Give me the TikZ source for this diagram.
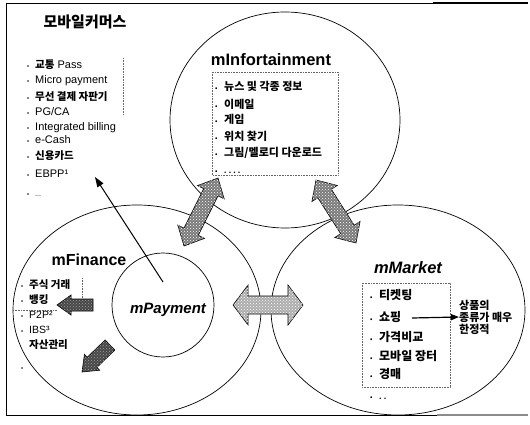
\documentclass[tikz,border=0pt]{standalone}
\usepackage{fontspec}
\setmainfont{Liberation Sans}
\newfontfamily\kr{Noto Sans CJK KR}
\usetikzlibrary{shapes.geometric,calc,arrows.meta,patterns}

\newcommand\fs[1]{\fontsize{#1}{#1}\selectfont}
\newcommand\krb{\kr\bfseries}
\newcommand\bul[1]{\makebox[#1][l]{\fontsize{6}{6}\selectfont •}}

% double block arrow: style, end a, end b, half body, half head, head length
\newcommand\blkdouble[6]{%
  \coordinate (pa) at ($(#2)!#6!(#3)$);
  \coordinate (pb) at ($(#3)!#6!(#2)$);
  \path[#1] (#2) -- ($(pa)!#5!90:(#3)$) -- ($(pa)!#4!90:(#3)$) -- ($(pb)!#4!90:(#3)$)
    -- ($(pb)!#5!90:(#3)$) -- (#3) -- ($(pb)!#5!-90:(#3)$) -- ($(pb)!#4!-90:(#3)$)
    -- ($(pa)!#4!-90:(#3)$) -- ($(pa)!#5!-90:(#3)$) -- cycle;
}
% single block arrow: style, tail, tip, half body, half head, head length
\newcommand\blksingle[6]{%
  \coordinate (ph) at ($(#3)!#6!(#2)$);
  \path[#1] (#3) -- ($(ph)!#5!90:(#3)$) -- ($(ph)!#4!90:(#3)$) -- ($(#2)!#4!90:(#3)$)
    -- ($(#2)!#4!-90:(#3)$) -- ($(ph)!#4!-90:(#3)$) -- ($(ph)!#5!-90:(#3)$) -- cycle;
}

\tikzset{
  circ/.style={draw, ellipse, line width=0.7pt, inner sep=0pt},
  dotbox/.style={draw=black!60, densely dotted, line width=0.6pt},
  hatchmid/.style={draw=black, line width=0.6pt, fill=black!52,
     postaction={pattern=crosshatch dots, pattern color=white}},
  hatchlight/.style={draw=black, line width=0.6pt, fill=black!32,
     postaction={pattern=crosshatch dots, pattern color=white}},
  hatchdark/.style={draw=black, line width=0.6pt, fill=black!72,
     postaction={pattern=crosshatch dots, pattern color=black!35}},
  item/.style={anchor=base west, inner sep=0pt},
  head/.style={inner sep=0pt, font=\bfseries},
}

\begin{document}
\begin{tikzpicture}[x=1pt,y=-1pt]
\useasboundingbox (0,0) rectangle (530,425);

% frame
\draw[line width=0.8pt] (527,3) -- (6,3) -- (6,415) -- (527,415);
\draw[line width=1.4pt] (433,3) -- (528,3);
\draw[black!45, line width=2.5pt] (437,415) -- (528,415);

% circles
\node[circ, minimum width=230pt, minimum height=216pt] (info) at (285,120) {};
\node[circ, minimum width=248pt, minimum height=210pt] (fin) at (137,310) {};
\node[circ, minimum width=102pt, minimum height=104pt] (pay) at (163,305) {};
\node[circ, minimum width=254pt, minimum height=210pt] (mkt) at (398,310) {};

% dotted boxes and lines
\draw[dotbox] (212,72) rectangle (338,175);
\draw[dotbox] (362,283) rectangle (450,387);
\draw[dotbox] (123,58) -- (123,115);
\draw[dotbox] (82,278) -- (82,302);
\draw[dotbox] (13,310) -- (57,310);

% title
\node[inner sep=0pt, font=\krb\fs{15}] (title) at (85,22) {모바일커머스};

% left list
\foreach \t/\y [count=\i] in {
  {{\krb\fs{10.5}교통} Pass}/69,
  {Micro payment}/84,
  {{\krb\fs{10.5}무선 결제 자판기}}/101,
  {PG/CA}/116,
  {Integrated billing}/131,
  {e-Cash}/144,
  {{\krb\fs{10.5}신용카드}}/159,
  {EBPP¹}/177,
  {\fs{7}...}/196}
  \node[item, font=\fs{11}] (L\i) at (27,\y) {\bul{8pt}\t};

% mInfortainment
\node[head, font=\bfseries\fs{16.5}] (infolab) at (271,60) {mInfortainment};
\foreach \t/\y [count=\i] in {
  {뉴스 및 각종 정보}/91,
  {이메일}/109,
  {게임}/124,
  {위치 찾기}/141,
  {그림/멜로디 다운로드}/157,
  {\fs{7}. . . .}/173}
  \node[item, font=\krb\fs{11}] (I\i) at (215,\y) {\bul{9pt}\t};

% mFinance
\node[head, font=\bfseries\fs{16}] (finlab) at (89,260) {mFinance};
\foreach \t/\y [count=\i] in {
  {{\krb 주식 거래}}/288,
  {{\krb 뱅킹}}/303,
  {P2P²}/318,
  {IBS³}/333}
  \node[item, font=\fs{10.5}] (F\i) at (21,\y) {\bul{8pt}\t};
\node[item, font=\krb\fs{10.5}] (F5) at (29,348) {자산관리};
\node[item, font=\fs{10.5}] (F6) at (21,370) {\bul{8pt}};

% mPayment
\node[head, font=\bfseries\itshape\fs{15}] (paylab) at (168,310) {mPayment};

% mMarket
\node[head, font=\bfseries\itshape\fs{16.5}] (mktlab) at (408,268) {mMarket};
\foreach \t/\y [count=\i] in {
  {티켓팅}/299,
  {쇼핑}/321,
  {가격비교}/341,
  {모바일 장터}/360,
  {경매}/378,
  {\fs{7}. .}/399}
  \node[item, font=\krb\fs{12}] (M\i) at (370,\y) {\bul{9pt}\t};
\node[inner sep=0pt, anchor=west, align=left, font=\krb\fontsize{11}{12}\selectfont] (note) at (459,317)
  {상품의\\종류가 매우\\한정적};
\coordinate (sa) at (412,318);
\draw[line width=1.2pt, -{Triangle[length=8pt,width=6pt]}] (sa) -- (note.west);

% thin arrow from mPayment to the payment list
\coordinate (pst) at (163,282);
\coordinate (pen) at (95,177);
\draw[line width=1pt, -{Triangle[length=10pt,width=7pt]}] (pst) -- (pen);

% block arrows
\coordinate (A1) at (184,246); \coordinate (A2) at (218,178);
\blkdouble{hatchmid}{A1}{A2}{8pt}{15pt}{16pt}
\coordinate (B1) at (316,180); \coordinate (B2) at (356,243);
\blkdouble{hatchmid}{B1}{B2}{8pt}{15pt}{16pt}
\coordinate (C1) at (233,305); \coordinate (C2) at (303,305);
\blkdouble{hatchlight}{C1}{C2}{9pt}{20pt}{15pt}
\coordinate (F1t) at (93,305); \coordinate (F1p) at (57,305);
\blksingle{hatchdark}{F1t}{F1p}{6pt}{10pt}{14pt}
\coordinate (F2t) at (110,345); \coordinate (F2p) at (82,372);
\blksingle{hatchdark}{F2t}{F2p}{7pt}{11pt}{14pt}
\end{tikzpicture}
\end{document}
